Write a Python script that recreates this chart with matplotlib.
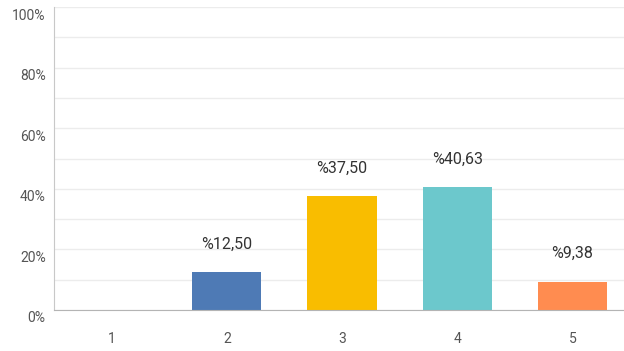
import matplotlib
matplotlib.use('Agg')
import matplotlib.pyplot as plt
import matplotlib.transforms as mtransforms
from matplotlib.ticker import FuncFormatter

plt.rcParams['font.family'] = ['Roboto', 'DejaVu Sans']

categories = ['1', '2', '3', '4', '5']
values = [0.0, 12.50, 37.50, 40.63, 9.38]
labels = ['', '%12,50', '%37,50', '%40,63', '%9,38']
colors = ['#4e7ab5', '#4e7ab5', '#f9bd00', '#6cc8cc', '#ff8c50']
yticks = [0, 20, 40, 60, 80, 100]

fig = plt.figure(figsize=(6.24, 3.51), dpi=100)
# axes run a bit past the right edge, like the original page crop
ax = fig.add_axes([54 / 624, 41 / 351, 576 / 624, 303 / 351])

x = list(range(len(categories)))
ax.bar(x, values, width=0.6, color=colors, zorder=3)

for xi, v, lab in zip(x, values, labels):
    if lab:
        ax.annotate(lab, (xi, v), xytext=(0, 20), textcoords='offset points',
                    ha='center', va='center', fontsize=11.5, color='#333333')

ax.set_xlim(-0.5, 4.5)
ax.set_ylim(0, 100)
ax.set_xticks(x)
ax.set_xticklabels(categories)
ax.set_yticks(yticks)
ax.set_yticks(range(10, 100, 20), minor=True)
ax.yaxis.set_major_formatter(FuncFormatter(lambda v, p: '%d%%' % v))

ax.grid(axis='y', which='both', color='#ececec', linewidth=1, zorder=0)
ax.tick_params(axis='both', which='both', length=0, labelsize=10, labelcolor='#555555')
ax.tick_params(axis='x', pad=16)
ax.tick_params(axis='y', pad=6)

# y labels sit a little under their grid lines
offset = mtransforms.ScaledTranslation(0, -7 / 100, fig.dpi_scale_trans)
for t in ax.get_yticklabels():
    t.set_transform(t.get_transform() + offset)

for side in ['top', 'right']:
    ax.spines[side].set_visible(False)
ax.spines['left'].set_color('#c8c8c8')
ax.spines['bottom'].set_color('#b4b4b4')
ax.spines['left'].set_zorder(4)
ax.spines['bottom'].set_zorder(4)

fig.savefig('out.png', dpi=100)
